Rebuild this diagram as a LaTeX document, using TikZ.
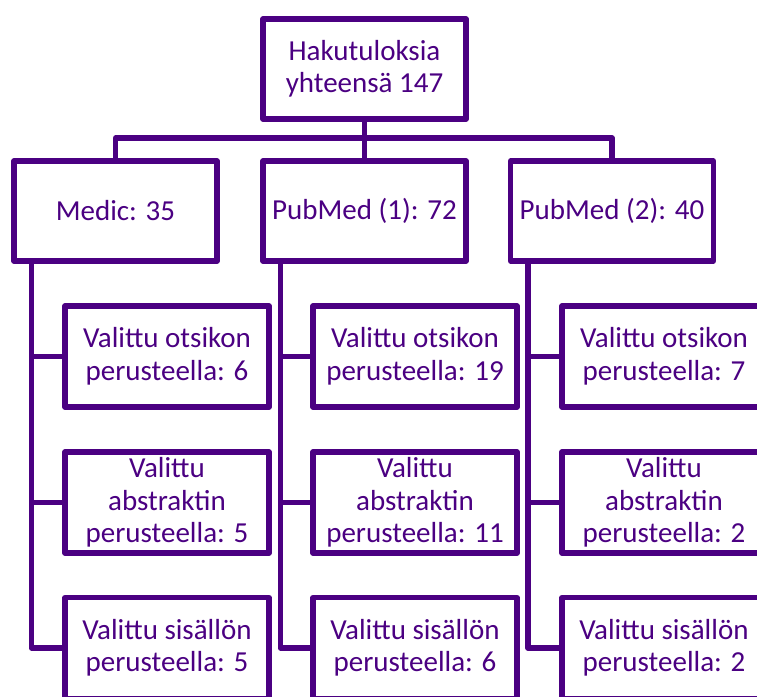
\documentclass[tikz,border=0pt]{standalone}
\usepackage{fontspec}
\setmainfont{Carlito}
\definecolor{indig}{RGB}{75,0,130}
\begin{document}
\begin{tikzpicture}[x=1pt,y=-1pt,
  box/.style={draw=indig, line width=5.2pt, line join=round, rectangle, fill=white,
    text=indig, align=center, font=\fontsize{29}{32.5}\selectfont, inner sep=0pt},
  lvl1/.style={box, minimum width=203pt, minimum height=100pt},
  lvl3/.style={box, minimum width=204pt, minimum height=101pt},
  conn/.style={draw=indig, line width=5.2pt, line join=round}]
\useasboundingbox (0,0) rectangle (757,696);
\clip (0,0) rectangle (757,696);
\node[lvl1] (top) at (364.5,69) {Hakutuloksia\\yhteensä 147};
\node[lvl1] (medic) at (115.5,211) {Medic: 35};
\node[lvl1] (pm1) at (364.5,211) {PubMed (1): 72};
\node[lvl1] (pm2) at (612,211) {PubMed (2): 40};
\coordinate (bus) at (364.5,138);
% children
\node[lvl3] (m1) at (167,356.5) {Valittu otsikon\\perusteella: 6};
\node[lvl3] (m2) at (167,502.5) {Valittu\\abstraktin\\perusteella: 5};
\node[lvl3] (m3) at (167,648) {Valittu sisällön\\perusteella: 5};
\node[lvl3] (p1) at (415,356.5) {Valittu otsikon\\perusteella: 19};
\node[lvl3] (p2) at (415,502.5) {Valittu\\abstraktin\\perusteella: 11};
\node[lvl3] (p3) at (415,648) {Valittu sisällön\\perusteella: 6};
\node[lvl3] (q1) at (664,356.5) {Valittu otsikon\\perusteella: 7};
\node[lvl3] (q2) at (664,502.5) {Valittu\\abstraktin\\perusteella: 2};
\node[lvl3] (q3) at (664,648) {Valittu sisällön\\perusteella: 2};
% top connectors
\draw[conn] (top.south) -- (pm1.north);
\draw[conn] (medic.north) -- (medic.north |- bus) -- (pm2.north |- bus) -- (pm2.north);
% spines
\coordinate (ms) at ([xshift=20pt]medic.south west);
\coordinate (ps) at ([xshift=20pt]pm1.south west);
\coordinate (qs) at ([xshift=20pt]pm2.south west);
\draw[conn] (ms) |- (m3.west);
\draw[conn] (m1.west) -- (m1.west -| ms);
\draw[conn] (m2.west) -- (m2.west -| ms);
\draw[conn] (ps) |- (p3.west);
\draw[conn] (p1.west) -- (p1.west -| ps);
\draw[conn] (p2.west) -- (p2.west -| ps);
\draw[conn] (qs) |- (q3.west);
\draw[conn] (q1.west) -- (q1.west -| qs);
\draw[conn] (q2.west) -- (q2.west -| qs);
\end{tikzpicture}
\end{document}
